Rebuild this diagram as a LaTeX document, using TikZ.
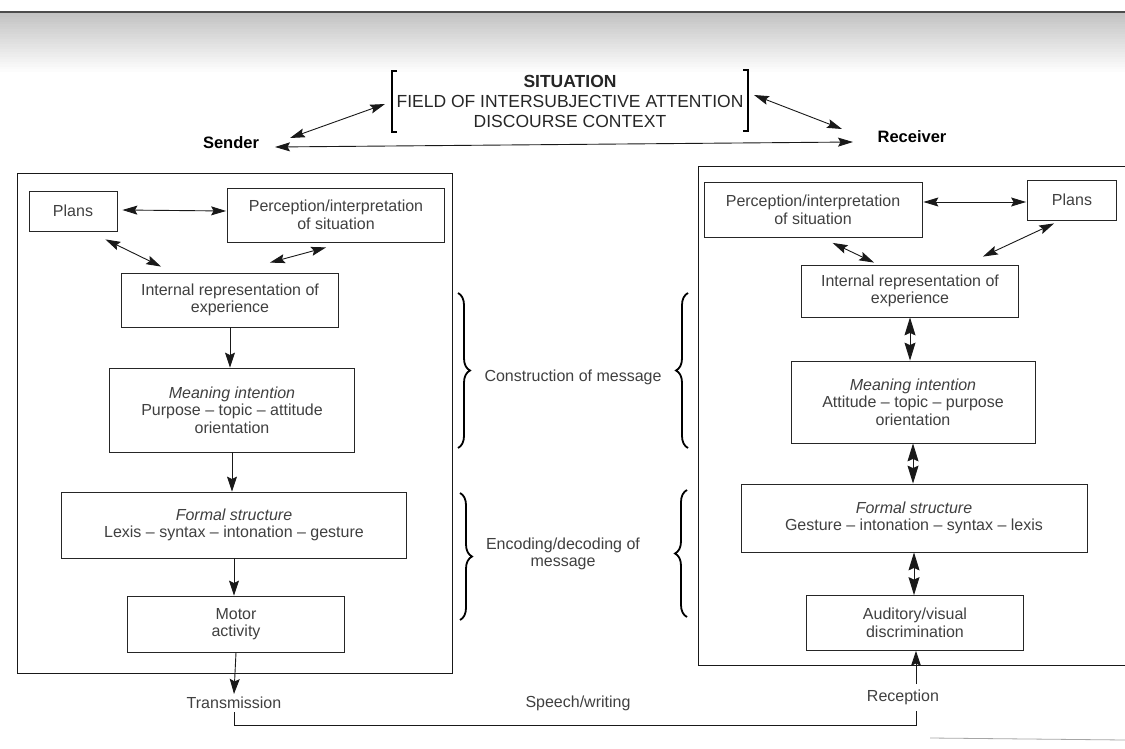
\documentclass[tikz,border=0pt]{standalone}
\usepackage{fontspec}
\setmainfont{Liberation Sans}
\usetikzlibrary{arrows.meta,decorations.pathreplacing,calc}
\newcommand\boxfont{\fontsize{16}{17.5}\selectfont}
\newcommand\topfont{\fontsize{17.5}{20}\selectfont}
\newcommand\lblfont{\fontsize{16.5}{18}\selectfont\bfseries}
\begin{document}
\begin{tikzpicture}[x=1pt,y=-1pt,
  box/.style={draw=black!85, line width=0.8pt, align=center, font=\boxfont, text=black!75, inner sep=2pt},
  lbl/.style={align=center, font=\boxfont, text=black!75, inner sep=3pt},
  conn/.style={draw=black!90, line width=0.9pt},
  arr/.style={conn, -{Stealth[length=15pt,width=10pt,inset=2.5pt]}},
  dbl/.style={conn, {Stealth[length=15pt,width=9pt,inset=2.5pt]}-{Stealth[length=15pt,width=9pt,inset=2.5pt]}},
  vdbl/.style={conn, {Stealth[length=18pt,width=11pt,inset=2.5pt]}-{Stealth[length=18pt,width=11pt,inset=2.5pt]}},
  brc/.style={draw=black, line width=1.8pt, decorate, decoration={brace, amplitude=12pt}},
  brk/.style={draw=black, line width=1.6pt}
]
\useasboundingbox (0,0) rectangle (1125,749);
\fill[white] (0,0) rectangle (1125,749);
% scanned page top shading
\foreach \i in {0,...,23} {
  \pgfmathsetmacro\g{24*(1-\i/24)}
  \fill[black!\g] (0,12+2.5*\i) rectangle (1125,14.6+2.5*\i);
}
\draw[black!70, line width=1.2pt] (0,12) -- (1125,12);
\draw[black!35, line width=0.8pt] (930,738) -- (1125,740);

% top situation block
\node[font=\topfont, align=center, text=black!85] (sit) at (570,101)
  {\textbf{SITUATION}\\FIELD OF INTERSUBJECTIVE ATTENTION\\DISCOURSE CONTEXT};
\draw[brk] (397,71) -- (392,71) -- (392,132) -- (397,132);
\draw[brk] (743,70) -- (748,70) -- (748,131) -- (743,131);

\node[font=\lblfont] (sender) at (231,143) {Sender};
\node[font=\lblfont] (receiver) at (912,137) {Receiver};

\coordinate (sA) at (290,138);
\coordinate (sB) at (385,104);
\coordinate (rA) at (754,95);
\coordinate (rB) at (842,129);
\coordinate (hA) at (275,147);
\coordinate (hB) at (853,142);
\draw[dbl] (sA) -- (sB);
\draw[dbl] (rA) -- (rB);
\draw[dbl] (hA) -- (hB);

% sender side
\draw[conn] (17,173) rectangle (452,673);
\node[box, minimum width=88pt, minimum height=40pt] (plansL) at (73,211) {Plans};
\node[box, minimum width=217pt, minimum height=54pt] (percL) at (336,215) {Perception/interpretation\\of situation};
\node[box, minimum width=217pt, minimum height=54pt] (intL) at (230,300) {Internal representation of\\experience};
\node[box, minimum width=245pt, minimum height=84pt] (meanL) at (232,410) {\textit{Meaning intention}\\Purpose – topic – attitude\\orientation};
\node[box, minimum width=345pt, minimum height=66pt] (formL) at (234,525) {\textit{Formal structure}\\Lexis – syntax – intonation – gesture};
\node[box, minimum width=217pt, minimum height=56pt] (motorL) at (236,624) {Motor\\activity};

\draw[dbl] ($(plansL.east)+(5,-1)$) -- ($(percL.west)+(-1,-4)$);
\draw[dbl] ($(plansL.south east)+(-12,8)$) -- ($(intL.north west)+(40,-6)$);
\draw[dbl] ($(percL.south west)+(99,5)$) -- ($(intL.north east)+(-69,-10)$);
\draw[arr] (intL.south) -- (intL.south |- meanL.north);
\draw[arr] (meanL.south) -- (meanL.south |- formL.north);
\draw[arr] (formL.south) -- (formL.south |- motorL.north);

% receiver side
\draw[conn] (1125,166) -| (698,665) -- (1125,665);
\node[box, minimum width=218pt, minimum height=55pt] (percR) at (813,210) {Perception/interpretation\\of situation};
\node[box, minimum width=89pt, minimum height=40pt] (plansR) at (1072,200) {Plans};
\node[box, minimum width=217pt, minimum height=52pt] (intR) at (910,291) {Internal representation of\\experience};
\node[box, minimum width=244pt, minimum height=82pt] (meanR) at (913,402) {\textit{Meaning intention}\\Attitude – topic – purpose\\orientation};
\node[box, minimum width=346pt, minimum height=68pt] (formR) at (914,518) {\textit{Formal structure}\\Gesture – intonation – syntax – lexis};
\node[box, minimum width=217pt, minimum height=55pt] (audR) at (915,623) {Auditory/visual\\discrimination};

\draw[dbl] ($(percR.east)+(1,-8)$) -- ($(plansR.west)+(-1,2)$);
\draw[dbl] ($(percR.south west)+(129,5)$) -- ($(intR.north west)+(73,-2)$);
\draw[dbl] ($(plansR.south west)+(27,3)$) -- ($(intR.north east)+(-36,-8)$);
\draw[vdbl] (intR.south) -- (intR.south |- meanR.north);
\draw[vdbl] (meanR.south) -- (meanR.south |- formR.north);
\draw[vdbl] (formR.south) -- (formR.south |- audR.north);

% middle braces and labels
\draw[brc] (458,293) -- (458,448);
\draw[brc] (688,448) -- (688,293);
\draw[brc] (460,493) -- (460,620);
\draw[brc] (687,617) -- (687,490);
\node[lbl] (constr) at (573,377) {Construction of message};
\node[lbl] (encod) at (563,554) {Encoding/decoding of\\message};

% transmission path
\node[lbl] (trans) at (234,703) {Transmission};
\node[lbl] (speech) at (578,703) {Speech/writing};
\node[lbl] (recep) at (903,697) {Reception};
\coordinate (botR) at (916,725);
\coordinate (recBot) at (916,711);
\coordinate (recTop) at (916,684);
\draw[arr] (motorL.south) -- (trans.north);
\draw[conn] (trans.south) |- (botR) -- (recBot);
\draw[arr] (recTop) -- (recTop |- audR.south);
\end{tikzpicture}
\end{document}
